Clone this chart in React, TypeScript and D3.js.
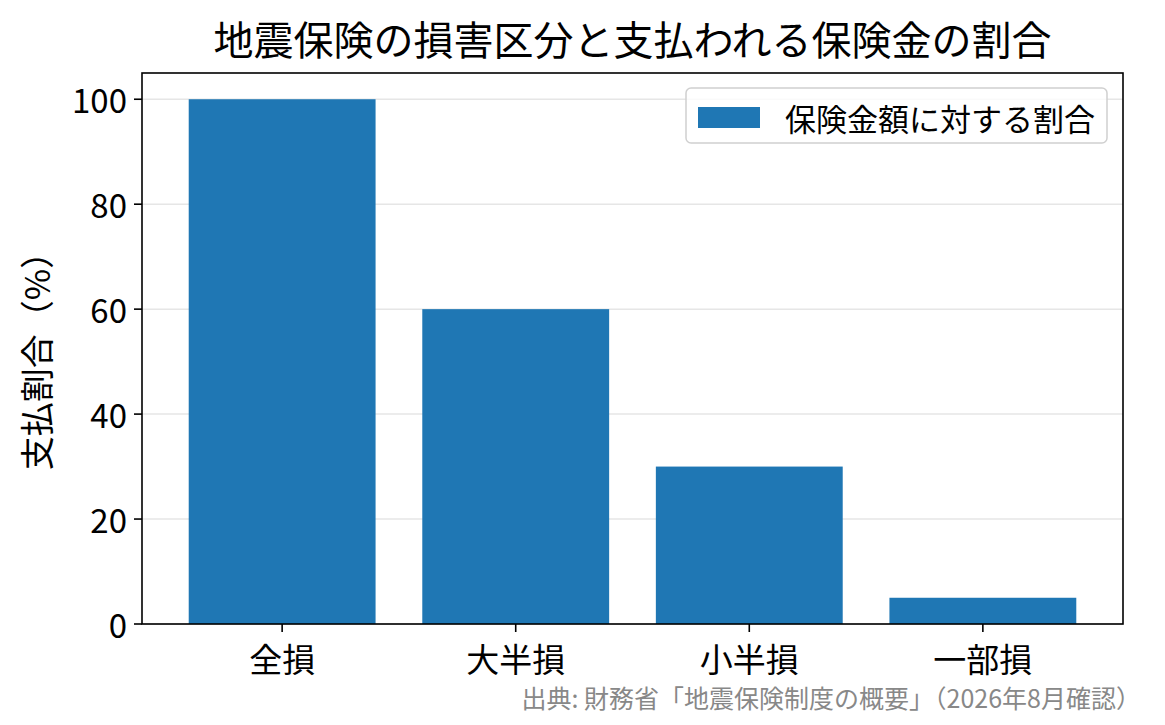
import * as d3 from 'd3';

const categories = ['全損', '大半損', '小半損', '一部損'];
const payoutRatio = [100, 60, 30, 5];
const yTicks = [0, 20, 40, 60, 80, 100];

const title = '地震保険の損害区分と支払われる保険金の割合';
const yLabel = '支払割合（%）';
const legendLabel = '保険金額に対する割合';
const sourceNote = '出典: 財務省「地震保険制度の概要」（2026年8月確認）';

const FONT = '"Noto Sans CJK JP", "Noto Sans", sans-serif';
const BAR = '#1f77b4';

export default function App() {
  const width = 1165;
  const height = 725;
  const left = 142;
  const right = 1123;
  const top = 73;
  const bottom = 624;

  // matplotlib-like x limits: -0.6 .. n-0.4, bar width 0.8
  const x = d3.scaleLinear().domain([-0.6, categories.length - 0.4]).range([left, right]);
  const y = d3.scaleLinear().domain([0, 105]).range([bottom, top]);
  const barW = x(0.4) - x(-0.4);

  return (
    <svg
      width={width}
      height={height}
      viewBox={`0 0 ${width} ${height}`}
      style={{ position: 'absolute', left: 0, top: 0, background: '#fff' }}
      fontFamily={FONT}
    >
      <rect width={width} height={height} fill="#fff" />

      {/* grid */}
      {yTicks.map((t) => (
        <line key={'g' + t} x1={left} x2={right} y1={y(t)} y2={y(t)} stroke="#e6e6e6" strokeWidth={1.5} />
      ))}

      {/* bars */}
      {payoutRatio.map((v, i) => (
        <rect key={categories[i]} x={x(i) - barW / 2} y={y(v)} width={barW} height={y(0) - y(v)} fill={BAR} />
      ))}

      {/* frame */}
      <rect x={left} y={top} width={right - left} height={bottom - top} fill="none" stroke="#000" strokeWidth={1.6} />

      {/* y ticks */}
      {yTicks.map((t) => (
        <g key={'y' + t}>
          <line x1={left - 8} x2={left} y1={y(t)} y2={y(t)} stroke="#000" strokeWidth={1.6} />
          <text x={left - 15} y={y(t)} textAnchor="end" dominantBaseline="central" fontSize={33} fill="#000">
            {t}
          </text>
        </g>
      ))}

      {/* x ticks */}
      {categories.map((c, i) => (
        <g key={'x' + c}>
          <line x1={x(i)} x2={x(i)} y1={bottom} y2={bottom + 8} stroke="#000" strokeWidth={1.6} />
          <text x={x(i)} y={bottom + 34} textAnchor="middle" dominantBaseline="central" fontSize={33} fill="#000">
            {c}
          </text>
        </g>
      ))}

      {/* y label */}
      <text
        transform={`translate(35,${(top + bottom) / 2 + 4}) rotate(-90)`}
        textAnchor="middle"
        dominantBaseline="central"
        fontSize={34}
        fill="#000"
      >
        {yLabel}
      </text>

      {/* title */}
      <text x={(left + right) / 2} y={38} textAnchor="middle" dominantBaseline="central" fontSize={40} fill="#000">
        {title}
      </text>

      {/* legend */}
      <g>
        <rect x={686} y={88} width={421} height={55} rx={5} fill="#fff" fillOpacity={0.8} stroke="#d0d0d0" strokeWidth={1.5} />
        <rect x={698} y={107} width={62} height={21} fill={BAR} />
        <text x={785} y={117} dominantBaseline="central" fontSize={31} fill="#000">
          {legendLabel}
        </text>
      </g>

      {/* source */}
      <text x={1141} y={697} textAnchor="end" dominantBaseline="central" fontSize={25} fill="#888">
        {sourceNote}
      </text>
    </svg>
  );
}
